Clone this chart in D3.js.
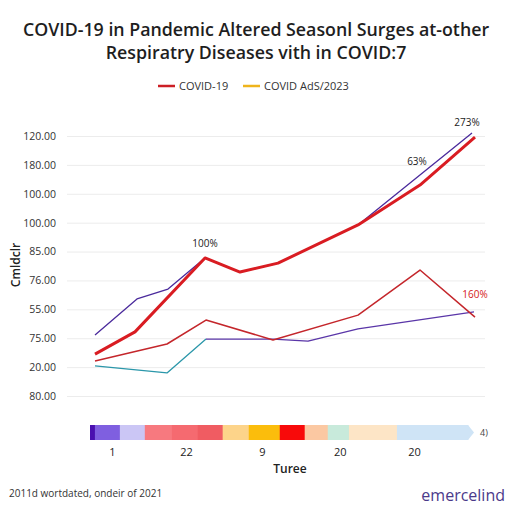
<!DOCTYPE html>
<html>
<head>
<meta charset="utf-8">
<script src="https://cdn.jsdelivr.net/npm/d3@7"></script>
<style>
  body { margin: 0; background: #fff; }
  svg { font-family: "Open Sans", "Noto Sans", sans-serif; }
</style>
</head>
<body>
<svg id="chart" width="512" height="512"></svg>
<script>
// y tick labels, bottom to top (as printed)
var yTickLabels = ["80.00", "20.00", "75.00", "55.00", "76.00", "85.00", "100.00", "100.00", "180.00", "120.00"];

// series: x = week index, y = value on the grid scale
var covidMain = [
  {x: 0, y: 14.5}, {x: 4, y: 22.2}, {x: 11, y: 47.8}, {x: 14.5, y: 42.9},
  {x: 18.3, y: 46}, {x: 26.3, y: 59.2}, {x: 32.5, y: 73}, {x: 38, y: 89.6}
];
var otherUpper = [
  {x: 0, y: 21.1}, {x: 4.2, y: 33.6}, {x: 7.3, y: 37}, {x: 11, y: 47.8},
  {x: 14.5, y: 42.9}, {x: 18.3, y: 46}, {x: 26.3, y: 59.2}, {x: 37.7, y: 91}
];
var covidLower = [
  {x: 0, y: 12.1}, {x: 7.2, y: 18}, {x: 11.1, y: 26.3}, {x: 17.8, y: 19.4},
  {x: 26.3, y: 28}, {x: 32.5, y: 43.6}, {x: 38, y: 27.3}
];
var tealLow = [{x: 0, y: 10.4}, {x: 7.2, y: 8}, {x: 11.1, y: 19.7}];
var violetLow = [
  {x: 11.1, y: 19.7}, {x: 17.8, y: 19.7}, {x: 21.3, y: 19}, {x: 26.3, y: 23.2}, {x: 37.9, y: 29.1}
];

var annotations = [
  {x: 11, y: 47.8, text: "100%", dx: 0, dy: -11, color: "#222"},
  {x: 32.2, y: 73, text: "63%", dx: 0, dy: -20, color: "#222"},
  {x: 37.5, y: 91, text: "273%", dx: -3, dy: -7, color: "#222"},
  {x: 37.5, y: 27.3, text: "160%", dx: 5, dy: -19, color: "#d42020"}
];

// colour band
var bandWidths = [1.3, 6.6, 6.6, 7.1, 6.9, 6.6, 6.9, 8.2, 6.6, 6.1, 5.6, 12.7, 18.8];
var bandColors = ["#4a10b0", "#7f5fe0", "#cbc6f5", "#f7797f", "#f56a70", "#f05c62", "#fdd48a",
                  "#fbbd0c", "#f80a0a", "#fbc8a2", "#c8eadb", "#fde5c6", "#cfe4f6"];
var bandTicks = [5.8, 25.4, 45.5, 66.1, 85.7];
var bandTickLabels = ["1", "22", "9", "20", "20"];

var legendItems = [
  {label: "COVID-19", color: "#cc1f25"},
  {label: "COVID AdS/2023", color: "#efb41c"}
];

var svg = d3.select("#chart");

var x = d3.scaleLinear().domain([0, 38]).range([95, 475]);
var y = d3.scaleLinear().domain([0, 90]).range([396, 136]);

// title
var title = svg.append("g").attr("text-anchor", "middle")
  .style("font-weight", 600).style("font-size", "17.8px").attr("fill", "#1e1e1e");
title.append("text").attr("x", 256).attr("y", 36)
  .text("COVID-19 in Pandemic Altered Seasonl Surges at-other");
title.append("text").attr("x", 256).attr("y", 59)
  .text("Respiratry Diseases vith in COVID:7");

// legend
var legend = svg.append("g").style("font-size", "11px");
var lx = [158, 243];
legendItems.forEach(function (d, i) {
  legend.append("line")
    .attr("x1", lx[i]).attr("x2", lx[i] + 17)
    .attr("y1", 86).attr("y2", 86)
    .attr("stroke", d.color).attr("stroke-width", 2.5);
  legend.append("text")
    .attr("x", lx[i] + 21).attr("y", 90)
    .attr("fill", "#333")
    .text(d.label);
});

// grid + y axis
var yAxis = d3.axisLeft(y)
  .tickValues(d3.range(0, 100, 10))
  .tickSize(-(485 - 67))
  .tickPadding(11)
  .tickFormat(function (d, i) { return yTickLabels[i]; });

var gy = svg.append("g")
  .attr("transform", "translate(67,0)")
  .call(yAxis);
gy.select(".domain").remove();
gy.selectAll(".tick line").attr("stroke", "#ececec");
gy.selectAll(".tick text")
  .attr("fill", "#333")
  .style("font-size", "10.5px")
  .style("font-family", "'Open Sans', sans-serif");

svg.append("text")
  .attr("transform", "translate(20,265) rotate(-90)")
  .attr("text-anchor", "middle")
  .style("font-size", "12px").style("font-weight", 600)
  .attr("fill", "#222")
  .text("Cmldclr");

// lines
var line = d3.line().x(function (d) { return x(d.x); }).y(function (d) { return y(d.y); });

function drawLine(data, color, width) {
  svg.append("path")
    .datum(data)
    .attr("d", line)
    .attr("fill", "none")
    .attr("stroke", color)
    .attr("stroke-width", width)
    .attr("stroke-linejoin", "round");
}

drawLine(tealLow, "#2b97aa", 1.3);
drawLine(violetLow, "#5a36a8", 1.3);
drawLine(covidLower, "#c4262b", 1.5);
drawLine(otherUpper, "#4a2a9c", 1.3);
drawLine(covidMain, "#d91c22", 3);

svg.append("g").selectAll("text")
  .data(annotations)
  .join("text")
  .attr("x", function (d) { return x(d.x) + d.dx; })
  .attr("y", function (d) { return y(d.y) + d.dy; })
  .attr("text-anchor", "middle")
  .attr("fill", function (d) { return d.color; })
  .style("font-size", "10px")
  .text(function (d) { return d.text; });

// colour band with axis
var bx = d3.scaleLinear().domain([0, 100]).range([90, 468]);
var cum = [0];
bandWidths.forEach(function (w, i) { cum.push(cum[i] + w); });

svg.append("g").selectAll("rect")
  .data(bandWidths)
  .join("rect")
  .attr("x", function (d, i) { return bx(cum[i]); })
  .attr("y", 425)
  .attr("width", function (d, i) { return bx(cum[i + 1]) - bx(cum[i]) + 0.3; })
  .attr("height", 15)
  .attr("fill", function (d, i) { return bandColors[i]; });

svg.append("path")
  .attr("d", "M" + bx(cum[cum.length - 1]) + ",425 l6,7.5 l-6,7.5 z")
  .attr("fill", bandColors[bandColors.length - 1]);

svg.append("text")
  .attr("x", 480).attr("y", 436)
  .style("font-size", "9px").attr("fill", "#444")
  .text("4)");

var bAxis = d3.axisBottom(bx)
  .tickValues(bandTicks)
  .tickSize(0)
  .tickPadding(8)
  .tickFormat(function (d, i) { return bandTickLabels[i]; });

var gb = svg.append("g").attr("transform", "translate(0,440)").call(bAxis);
gb.select(".domain").remove();
gb.selectAll(".tick text")
  .attr("fill", "#222")
  .style("font-size", "11px")
  .style("font-family", "'Open Sans', sans-serif");

svg.append("text")
  .attr("x", 290).attr("y", 473)
  .attr("text-anchor", "middle")
  .style("font-size", "12px").style("font-weight", 600)
  .attr("fill", "#222")
  .text("Turee");

// footer
svg.append("text")
  .attr("x", 9).attr("y", 497)
  .style("font-size", "10px").attr("fill", "#333")
  .text("2011d wortdated, ondeir of 2021");

svg.append("text")
  .attr("x", 505).attr("y", 501)
  .attr("text-anchor", "end")
  .style("font-size", "16px").attr("fill", "#4b3a8a")
  .text("emercelind");
</script>
</body>
</html>
